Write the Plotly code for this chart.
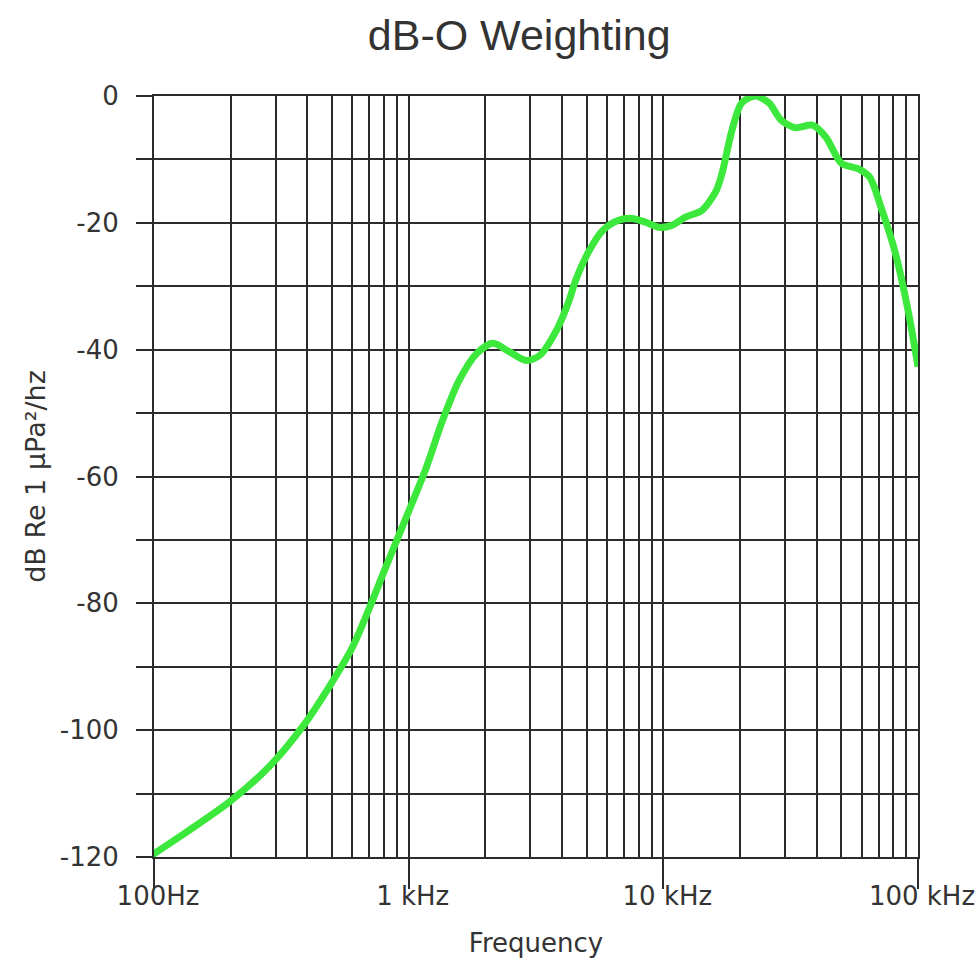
import plotly.graph_objects as go

# Data
freq_hz = [96, 100, 135, 198, 284, 384, 490, 600, 700, 800,
           923, 1000, 1175, 1360, 1580, 1850, 2140, 2500, 2900, 3270,
           3800, 4270, 4530, 5130, 5780, 6670, 7530, 8530, 9620, 10800,
           12200, 14200, 16100, 17000, 18600, 20300, 23000, 26000, 29000, 33000,
           38500, 43500, 50000, 58400, 64600, 71500, 81400, 91800, 100000]
level_db = [-120, -119.5, -116, -111.3, -105.7, -99.4, -93, -87, -80.8, -75,
            -68.9, -65.5, -58.5, -51.1, -44.8, -40.6, -39, -40.4, -41.7, -40.9,
            -37, -32.2, -29, -24.3, -21.2, -19.6, -19.3, -19.9, -20.7, -20.4,
            -19.1, -18, -15, -12.2, -5.4, -1.1, 0, -1.1, -3.8, -5,
            -4.6, -6.5, -10.6, -11.5, -12.8, -17.5, -24.7, -34.2, -42.7]

x_major = [100, 1000, 10000, 100000]
x_major_text = ["100Hz", "1 kHz", "10 kHz", "100 kHz"]
x_minor = [m * d for d in (100, 1000, 10000) for m in range(2, 10)]
y_major = [0, -20, -40, -60, -80, -100, -120]
y_major_text = ["0", "-20", "-40", "-60", "-80", "-100", "-120"]
y_minor = [-10, -30, -50, -70, -90, -110]

grid_c = "#2b2b2b"
text_c = "#333333"

fig = go.Figure()
fig.add_trace(go.Scatter(
    x=freq_hz, y=level_db, mode="lines",
    line=dict(color="#3ce83c", width=7, shape="spline", smoothing=0.8),
    cliponaxis=False, showlegend=False, hoverinfo="skip",
))

fig.update_layout(
    width=978, height=959,
    margin=dict(l=154, r=60, t=96, b=102, autoexpand=False),
    paper_bgcolor="white", plot_bgcolor="white",
    font=dict(family="DejaVu Sans", color=text_c, size=26),
    title=dict(text="dB-O Weighting", x=0.478, xref="paper", xanchor="center",
               y=1 - 35 / 959, yref="container", yanchor="middle",
               font=dict(family="Liberation Sans", size=43, color=text_c)),
)

fig.update_xaxes(
    type="log", range=[2, 5], automargin=False,
    tickmode="array", tickvals=x_major, ticktext=x_major_text,
    ticks="outside", ticklen=30, tickwidth=2, tickcolor=grid_c,
    ticklabelstandoff=-15, ticklabelshift=4,
    showgrid=True, gridcolor=grid_c, gridwidth=2,
    showline=True, linecolor=grid_c, linewidth=2, mirror=True,
    zeroline=False,
    minor=dict(tickvals=x_minor, showgrid=True, gridcolor=grid_c, gridwidth=2, ticks=""),
    title=dict(text="Frequency", standoff=24, font=dict(size=26)),
    tickfont=dict(size=26),
)

fig.update_yaxes(
    range=[-120, 0], automargin=False,
    tickmode="array", tickvals=y_major, ticktext=y_major_text,
    ticks="outside", ticklen=16, tickwidth=2, tickcolor=grid_c,
    ticklabelstandoff=12,
    showgrid=True, gridcolor=grid_c, gridwidth=2,
    showline=True, linecolor=grid_c, linewidth=2, mirror=True,
    zeroline=False,
    minor=dict(tickvals=y_minor, showgrid=True, gridcolor=grid_c, gridwidth=2,
               ticks="outside", ticklen=16, tickwidth=2, tickcolor=grid_c),
    title=dict(text="dB Re 1 µPa²/hz", standoff=6, font=dict(size=27)),
    tickfont=dict(size=26),
)

fig.write_html("out.html")
